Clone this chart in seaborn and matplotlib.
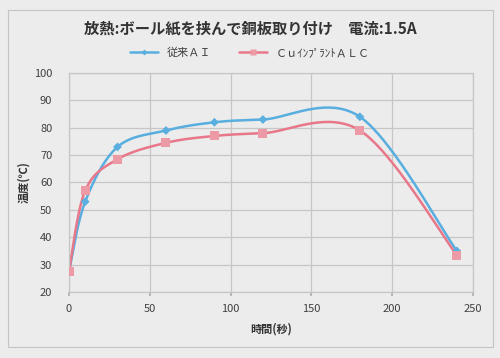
import numpy as np
import pandas as pd
import seaborn as sns
import matplotlib.pyplot as plt
from matplotlib.patches import Rectangle

# data
time_s = [0, 10, 30, 60, 90, 120, 180, 240]
temp_al = [27.5, 53, 73, 79, 82, 83, 84, 35]
temp_cu = [27.5, 57, 68.5, 74.5, 77, 78, 79, 33.5]
series_names = ['従来ＡＩ', 'ＣｕｲﾝﾌﾟﾗﾝﾄＡＬＣ']
x_ticks = [0, 50, 100, 150, 200, 250]
y_ticks = [20, 30, 40, 50, 60, 70, 80, 90, 100]


def smooth(x, y, n=40):
    # Excel-style smoothed line: cubic bezier through the points
    x = np.asarray(x, float)
    y = np.asarray(y, float)
    px, py = [], []
    for i in range(len(x) - 1):
        i0, i3 = max(i - 1, 0), min(i + 2, len(x) - 1)
        c1x = x[i] + (x[i + 1] - x[i0]) / 6
        c1y = y[i] + (y[i + 1] - y[i0]) / 6
        c2x = x[i + 1] - (x[i3] - x[i]) / 6
        c2y = y[i + 1] - (y[i3] - y[i]) / 6
        t = np.linspace(0, 1, n)
        px.extend((1-t)**3*x[i] + 3*(1-t)**2*t*c1x + 3*(1-t)*t**2*c2x + t**3*x[i+1])
        py.extend((1-t)**3*y[i] + 3*(1-t)**2*t*c1y + 3*(1-t)*t**2*c2y + t**3*y[i+1])
    return px, py


sns.set_theme(style='white')
plt.rcParams['font.family'] = ['Noto Sans CJK JP', 'DejaVu Sans']

bg = '#ececec'
fig = plt.figure(figsize=(5, 3.58), dpi=100)
fig.patch.set_facecolor(bg)
fig.patches.append(Rectangle((8/500, 1 - 347/358), 485/500, 337/358, transform=fig.transFigure,
                             fill=False, edgecolor='#c4c4c4', linewidth=0.8))

ax = fig.add_axes([69/500, 1 - 292/358, 404/500, 219/358])
ax.set_facecolor(bg)

colors = ['#58aedf', '#e8778a']
mcolors = ['#5aaee0', '#ec9aa6']
markers = ['D', 's']
sizes = [4.5, 6.5]
handles = []
for ys, name, c, mc, m, ms in zip([temp_al, temp_cu], series_names, colors, mcolors, markers, sizes):
    sx, sy = smooth(time_s, ys)
    df = pd.DataFrame({'t': sx, 'v': sy})
    sns.lineplot(data=df, x='t', y='v', color=c, linewidth=1.8, sort=False, legend=False, ax=ax)
    sns.scatterplot(x=time_s, y=ys, marker=m, s=ms**2, color=mc, edgecolor='none',
                    legend=False, ax=ax, zorder=3)
    h, = ax.plot([], [], color=c, marker=m, markersize=ms - 1.5, markerfacecolor=mc,
                 markeredgecolor='none', linewidth=1.8)
    handles.append(h)
if ax.get_legend() is not None:
    ax.get_legend().remove()

ax.set_xlim(0, 250)
ax.set_ylim(20, 100)
ax.set_xticks(x_ticks)
ax.set_yticks(y_ticks)
ax.grid(True, color='#c6c6c6', linewidth=0.9)
for s in ax.spines.values():
    s.set_color('#c6c6c6')
    s.set_linewidth(0.9)
ax.tick_params(axis='both', labelsize=8, colors='#404040', length=3, color='#b0b0b0', pad=6)
ax.tick_params(axis='x', bottom=True, direction='out')
ax.tick_params(axis='y', left=False, pad=9)
ax.set_xlabel('時間(秒)', fontsize=8, fontweight='bold', color='#333333', labelpad=6)
ax.set_ylabel('温度(℃)', fontsize=8, fontweight='bold', color='#333333', labelpad=3)

fig.text(0.5, 1 - 28/358, '放熱:ボール紙を挟んで銅板取り付け　電流:1.5A', ha='center', va='center',
         fontsize=11, fontweight='bold', color='#333333')
fig.legend(handles, series_names, loc='center', bbox_to_anchor=(0.5, 1 - 53/358), ncol=2,
           frameon=False, fontsize=8, handlelength=2.5, columnspacing=2.5, labelcolor='#404040')

fig.savefig('out.png', dpi=100, facecolor=bg)
